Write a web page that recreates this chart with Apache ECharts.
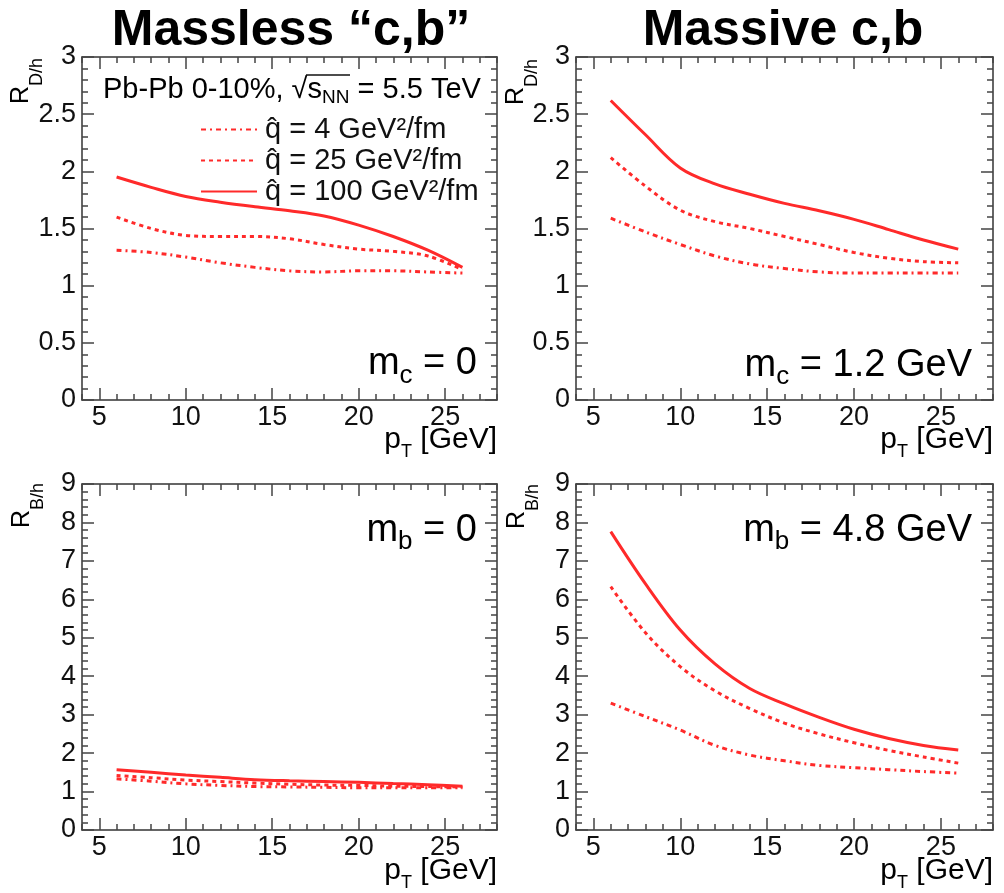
<!DOCTYPE html>
<html>
<head>
<meta charset="utf-8">
<script src="https://cdn.jsdelivr.net/npm/echarts@6/dist/echarts.min.js"></script>
<style>
  html, body { margin: 0; padding: 0; background: #fff; }
  #chart { width: 1004px; height: 893px; }
</style>
</head>
<body>
<div id="chart"></div>
<script>
// pT grid of the curves (GeV)
const pT = [6, 8, 10, 12, 14, 16, 18, 20, 22, 24, 26];
const xMajor = [5, 10, 15, 20, 25];

// R_D/h, massless "c"
const dMassless4 = [1.31, 1.29, 1.25, 1.20, 1.16, 1.13, 1.12, 1.13, 1.13, 1.12, 1.11];
const dMassless25 = [1.60, 1.50, 1.44, 1.43, 1.43, 1.41, 1.36, 1.32, 1.30, 1.26, 1.14];
const dMassless100 = [1.95, 1.86, 1.78, 1.73, 1.69, 1.655, 1.61, 1.53, 1.43, 1.31, 1.16];
// R_D/h, massive c
const dMassive4 = [1.59, 1.47, 1.36, 1.26, 1.19, 1.15, 1.12, 1.11, 1.11, 1.11, 1.11];
const dMassive25 = [2.12, 1.87, 1.66, 1.56, 1.50, 1.43, 1.36, 1.29, 1.24, 1.21, 1.20];
const dMassive100 = [2.62, 2.32, 2.03, 1.89, 1.80, 1.72, 1.655, 1.58, 1.49, 1.40, 1.32];
// R_B/h, massless "b"
const bMassless4 = [1.33, 1.27, 1.20, 1.16, 1.13, 1.12, 1.11, 1.10, 1.10, 1.10, 1.10];
const bMassless25 = [1.42, 1.36, 1.30, 1.26, 1.22, 1.19, 1.17, 1.16, 1.14, 1.13, 1.12];
const bMassless100 = [1.57, 1.50, 1.43, 1.37, 1.31, 1.28, 1.26, 1.24, 1.21, 1.18, 1.14];
// R_B/h, massive b
const bMassive4 = [3.30, 2.95, 2.60, 2.20, 1.95, 1.80, 1.68, 1.62, 1.57, 1.52, 1.48];
const bMassive25 = [6.33, 5.13, 4.25, 3.62, 3.16, 2.78, 2.50, 2.27, 2.07, 1.90, 1.74];
const bMassive100 = [7.76, 6.40, 5.20, 4.32, 3.68, 3.28, 2.93, 2.62, 2.38, 2.20, 2.08];

const legendNames = ['q4', 'q25', 'q100'];
const legendLabels = {q4: 'q\u0302 = 4 GeV\u00b2/fm', q25: 'q\u0302 = 25 GeV\u00b2/fm', q100: 'q\u0302 = 100 GeV\u00b2/fm'};

const fontFam = '"Liberation Sans", Arial, Helvetica, sans-serif';
const red = '#ff2a2a';
const frameColor = '#333';

const panels = [
  {grid: {left: 82, top: 57, width: 415, height: 343}, yMax: 3, yStep: 0.5, curves: [dMassless4, dMassless25, dMassless100]},
  {grid: {left: 576, top: 57, width: 417, height: 343}, yMax: 3, yStep: 0.5, curves: [dMassive4, dMassive25, dMassive100]},
  {grid: {left: 82, top: 484, width: 415, height: 346}, yMax: 9, yStep: 1, curves: [bMassless4, bMassless25, bMassless100]},
  {grid: {left: 576, top: 484, width: 417, height: 346}, yMax: 9, yStep: 1, curves: [bMassive4, bMassive25, bMassive100]}
];

const lineStyles = [
  {width: 3, type: [5, 4, 2, 4], color: red},
  {width: 3, type: [4, 4], color: red},
  {width: 3, type: 'solid', color: red}
];

const grids = [], xAxes = [], yAxes = [], series = [];
const lineCfg = {show: true, lineStyle: {color: frameColor, width: 1.5}};
const tickStyle = {color: '#444', width: 1.5};

panels.forEach((p, i) => {
  grids.push(Object.assign({containLabel: false}, p.grid));
  // bottom: minor ticks + labels
  xAxes.push({
    gridIndex: i, type: 'value', min: 4, max: 28, interval: 1, position: 'bottom',
    axisLine: lineCfg, splitLine: {show: false},
    axisTick: {inside: true, length: 6, lineStyle: tickStyle},
    axisLabel: {
      margin: 4, fontSize: 27, color: '#111', fontFamily: fontFam,
      formatter: v => (v % 5 === 0 && v >= 5 && v <= 25) ? String(v) : ''
    }
  });
  // bottom: major ticks
  xAxes.push({
    gridIndex: i, type: 'value', min: 4, max: 28, position: 'bottom',
    axisLine: {show: false}, splitLine: {show: false}, axisLabel: {show: false},
    axisTick: {inside: true, length: 12, lineStyle: tickStyle, customValues: xMajor}
  });
  // top mirror
  xAxes.push({
    gridIndex: i, type: 'value', min: 4, max: 28, interval: 1, position: 'top',
    axisLine: lineCfg, splitLine: {show: false}, axisLabel: {show: false},
    axisTick: {inside: true, length: 6, lineStyle: tickStyle}
  });
  xAxes.push({
    gridIndex: i, type: 'value', min: 4, max: 28, position: 'top',
    axisLine: {show: false}, splitLine: {show: false}, axisLabel: {show: false},
    axisTick: {inside: true, length: 12, lineStyle: tickStyle, customValues: xMajor}
  });
  yAxes.push({
    gridIndex: i, type: 'value', min: 0, max: p.yMax, interval: p.yStep, position: 'left',
    axisLine: lineCfg, splitLine: {show: false},
    axisTick: {inside: true, length: 12, lineStyle: tickStyle},
    minorTick: {show: true, splitNumber: 5, length: 6, lineStyle: tickStyle},
    axisLabel: {margin: 6, fontSize: 27, color: '#111', fontFamily: fontFam}
  });
  yAxes.push({
    gridIndex: i, type: 'value', min: 0, max: p.yMax, interval: p.yStep, position: 'right',
    axisLine: lineCfg, splitLine: {show: false}, axisLabel: {show: false},
    axisTick: {inside: true, length: 12, lineStyle: tickStyle},
    minorTick: {show: true, splitNumber: 5, length: 6, lineStyle: tickStyle}
  });
  p.curves.forEach((vals, k) => {
    series.push({
      name: legendNames[k], type: 'line', xAxisIndex: i * 4, yAxisIndex: i * 2,
      data: pT.map((x, j) => [x, vals[j]]),
      symbol: 'none', smooth: 0.35, lineStyle: lineStyles[k], itemStyle: {color: red},
      z: 3 + k
    });
  });
});

// text with a subscript: big glyphs at the top of the line box, small ones at its bottom
// base = baseline of the big text, drop = how far the subscript baseline sits below it
const subText = (x, base, text, big, small, drop, align, extra) => {
  const L = 0.81 * big + drop + 0.19 * small;
  const rich = {
    b: {fontSize: big, fontFamily: fontFam, color: '#111', verticalAlign: 'top'},
    s: {fontSize: small, fontFamily: fontFam, color: '#111', verticalAlign: 'bottom'}
  };
  const isRot = extra && extra.rotation;
  const pos = isRot ? {x: base + L / 2 - 0.81 * big, y: x} : {x: x, y: base + L / 2 - 0.81 * big};
  return Object.assign({
    type: 'text', z: 100, x: pos.x, y: pos.y,
    style: {text: text, rich: rich, align: align || 'left', verticalAlign: 'middle', lineHeight: L}
  }, extra || {});
};

const yName = (baseX, startY, s) => subText(startY, baseX, '{b|R}{s|' + s + '}', 25, 18, 14, 'left', {rotation: Math.PI / 2});

const graphic = [
  {type: 'text', x: 291, y: 56.5, style: {text: 'Massless \u201cc,b\u201d', font: 'bold 50px ' + fontFam, fill: '#000', align: 'center', verticalAlign: 'bottom'}},
  {type: 'text', x: 783, y: 56.5, style: {text: 'Massive c,b', font: 'bold 50px ' + fontFam, fill: '#000', align: 'center', verticalAlign: 'bottom'}},
  yName(29, 104, 'D/h'),
  yName(524, 105, 'D/h'),
  yName(30, 528, 'B/h'),
  yName(525, 529, 'B/h'),
  subText(497, 449, '{b|p}{s|T}{b| [GeV]}', 30, 18, 9, 'right'),
  subText(993, 449, '{b|p}{s|T}{b| [GeV]}', 30, 18, 9, 'right'),
  subText(497, 880, '{b|p}{s|T}{b| [GeV]}', 30, 18, 9, 'right'),
  subText(993, 880, '{b|p}{s|T}{b| [GeV]}', 30, 18, 9, 'right'),
  subText(477, 375.5, '{b|m}{s|c}{b| = 0}', 38, 26, 8, 'right'),
  subText(972, 377, '{b|m}{s|c}{b| = 1.2 GeV}', 38, 26, 8, 'right'),
  subText(477, 542, '{b|m}{s|b}{b| = 0}', 38, 26, 8, 'right'),
  subText(972, 542, '{b|m}{s|b}{b| = 4.8 GeV}', 38, 26, 8, 'right'),
  subText(103, 99, '{b|Pb-Pb 0-10%, \u221as}{s|NN}{b| = 5.5 TeV}', 29, 19, 5, 'left'),
  // overline of the square root
  {type: 'line', z: 100, shape: {x1: 306, y1: 75, x2: 350, y2: 75}, style: {stroke: '#111', lineWidth: 1.5}}
];

const chart = echarts.init(document.getElementById('chart'), null, {renderer: 'canvas'});
chart.setOption({
  animation: false,
  backgroundColor: '#fff',
  grid: grids,
  xAxis: xAxes,
  yAxis: yAxes,
  legend: {
    data: legendNames, orient: 'vertical', left: 195, top: 110,
    itemWidth: 56, itemHeight: 14, itemGap: 2, selectedMode: false,
    itemStyle: {opacity: 0},
    formatter: n => legendLabels[n],
    textStyle: {fontSize: 29, color: '#111', fontFamily: fontFam, padding: [0, 0, 0, 3]}
  },
  series: series,
  graphic: graphic
});
</script>
</body>
</html>
